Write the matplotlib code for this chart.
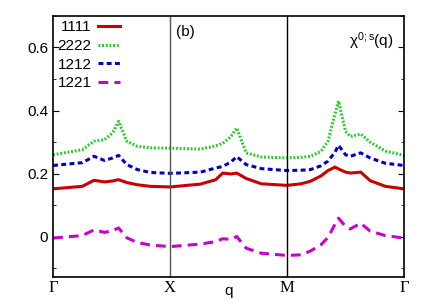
import numpy as np
import matplotlib
matplotlib.use("Agg")
import matplotlib.pyplot as plt
from matplotlib.ticker import MultipleLocator

plt.rcParams['font.family'] = ['Liberation Sans', 'DejaVu Sans']

# path coordinate: Gamma=0, X=1, M=2, Gamma=3
q = [0, 0.25, 0.35, 0.44, 0.51, 0.56, 0.63, 0.72, 0.83, 1.0,
     1.26, 1.39, 1.45, 1.52, 1.57, 1.65, 1.78, 2.0,
     2.12, 2.2, 2.29, 2.35, 2.41, 2.44, 2.5, 2.54, 2.63, 2.71, 2.84, 3.0]

chi_1111 = [0.152, 0.160, 0.179, 0.174, 0.177, 0.181, 0.172, 0.165, 0.160, 0.158,
            0.167, 0.181, 0.202, 0.199, 0.202, 0.185, 0.168, 0.163,
            0.168, 0.176, 0.193, 0.210, 0.221, 0.215, 0.205, 0.202, 0.205, 0.178, 0.160, 0.152]
chi_2222 = [0.260, 0.276, 0.303, 0.308, 0.330, 0.366, 0.303, 0.287, 0.282, 0.281,
            0.278, 0.288, 0.296, 0.318, 0.345, 0.266, 0.253, 0.250,
            0.252, 0.255, 0.271, 0.303, 0.390, 0.430, 0.334, 0.318, 0.326, 0.300, 0.272, 0.258]
chi_1212 = [0.226, 0.235, 0.255, 0.242, 0.250, 0.258, 0.229, 0.213, 0.204, 0.201,
            0.205, 0.218, 0.223, 0.237, 0.254, 0.229, 0.216, 0.210,
            0.211, 0.213, 0.225, 0.240, 0.268, 0.290, 0.260, 0.255, 0.266, 0.250, 0.233, 0.226]
chi_1221 = [-0.004, 0.004, 0.022, 0.014, 0.020, 0.028, -0.003, -0.018, -0.026, -0.031,
            -0.023, -0.015, -0.006, -0.008, 0.001, -0.036, -0.052, -0.059,
            -0.057, -0.045, -0.025, -0.002, 0.040, 0.059, 0.033, 0.025, 0.043, 0.018, 0.004, -0.004]

sym_pos = [0, 1, 2, 3]
sym_labels = ['Γ', 'X', 'M', 'Γ']

fig = plt.figure(figsize=(4.28, 3.0), dpi=100)
ax = fig.add_axes([0.124, 0.077, 0.82, 0.87])

ax.plot(q, chi_1111, color='#cc0000', lw=2.2, label='1111')
ax.plot(q, chi_2222, color='#22cc22', lw=2.2, ls=(0, (0.6, 0.6)), label='2222')
ax.plot(q, chi_1212, color='#0000cc', lw=2.2, ls=(0, (1.6, 1.1)), label='1212')
ax.plot(q, chi_1221, color='#cc00cc', lw=2.2, ls=(0, (3.2, 2.0)), label='1221')

ax.axvline(1, color='#555555', lw=1)
ax.axvline(2, color='black', lw=1)

ax.set_xlim(0, 3)
ax.set_ylim(-0.127, 0.70)
ax.set_xticks(sym_pos)
ax.set_xticklabels(sym_labels, family='Liberation Serif', fontsize=12)
ax.tick_params(axis='x', length=0, pad=2)
ax.yaxis.set_minor_locator(MultipleLocator(0.1))
ax.set_yticks([0, 0.2, 0.4, 0.6])
ax.set_yticklabels(['0', '0.2', '0.4', '0.6'])
ax.tick_params(axis='y', which='both', direction='in', right=True, labelsize=11)
ax.tick_params(axis='y', which='major', length=4)
ax.tick_params(axis='y', which='minor', length=2.5)
for s in ax.spines.values():
    s.set_linewidth(1.2)

ax.text(0.5, -0.069, 'q', transform=ax.transAxes, fontsize=11,
        ha='center', va='baseline')

ax.text(0.35, 0.965, '(b)', transform=ax.transAxes, fontsize=11, va='top')
ax.text(0.97, 0.945, r'$\mathregular{\chi^{0;s}}$(q)', transform=ax.transAxes,
        fontsize=11, va='top', ha='right')

ax.legend(loc='upper left', frameon=False, markerfirst=False, fontsize=11,
          handlelength=1.45, handletextpad=0.4, labelspacing=0.3,
          borderaxespad=0.1, borderpad=0.2)

fig.savefig('out.png', dpi=100)
